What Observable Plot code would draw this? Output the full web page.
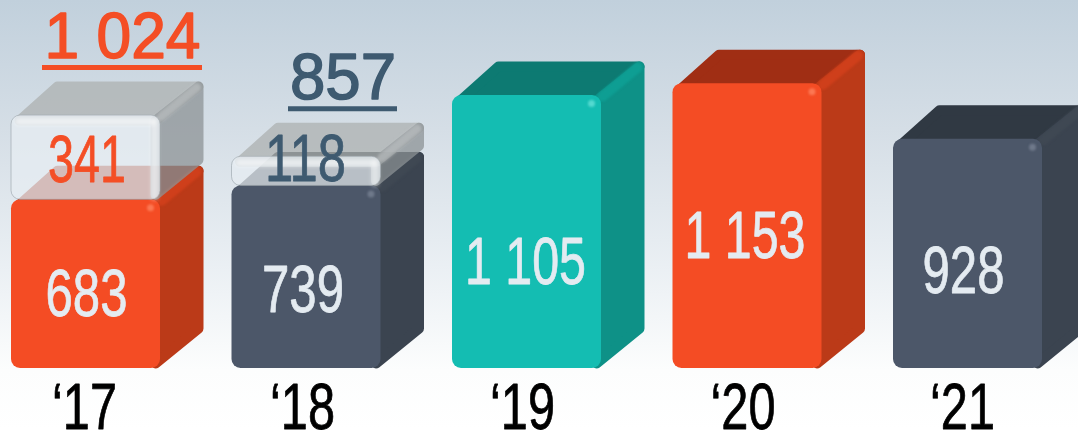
<!DOCTYPE html>
<html>
<head>
<meta charset="utf-8">
<script src="https://cdn.jsdelivr.net/npm/d3@7"></script>
<script src="https://cdn.jsdelivr.net/npm/@observablehq/plot@0.6"></script>
<style>
  html, body { margin: 0; padding: 0; width: 1078px; height: 430px; overflow: hidden;
    background: linear-gradient(180deg, #c1d0dc 0%, #d5dee6 30%, #e6ecf1 56%, #fcfdfd 86%, #ffffff 100%); }
  svg { display: block; }
</style>
</head>
<body>
<div id="chart"></div>
<script>
const years = [2017, 2018, 2019, 2020, 2021];
const yearLabels = ["‘17", "‘18", "‘19", "‘20", "‘21"];
const yearLabelShift = [-1.5, -4, -4.5, -4.5, -5.5];
const solidValues = [683, 739, 1105, 1153, 928];
const solidLabels = ["683", "739", "1 105", "1 153", "928"];
const solidLabelHeights = [300, 316, 429, 534, 393];
const solidLabelShift = [0.5, -3.5, -1.5, -2.5, -4.5];
const solidPalette = ["orange", "slate", "teal", "orange", "slate"];

const ghostYears = [2017, 2018];
const ghostValues = [341, 118];
const ghostLabelHeights = [841, 844];
const ghostLabelShift = [1, -1];
const totals = [1024, 857];
const totalLabels = ["1 024", "857"];
const totalColors = ["#f44e25", "#3e5a70"];
const totalTextWidths = [156, 106];
const totalRuleWidths = [160, 109];

const faces = {
  orange: {front: "#f44c24", side: "#bb3a18", top: "#a02e14", strip: "#cf3f1b", spot: "#ff8a66"},
  slate:  {front: "#4c5769", side: "#3b4450", top: "#303943", strip: "#3f4853", spot: "#7d8898"},
  teal:   {front: "#14bdb2", side: "#0e9187", top: "#0d7a72", strip: "#0e9e93", spot: "#6fe6dd"}
};

// scale layout, in pixels
const W = 1078, H = 430, baseY = 368, pxPerUnit = 0.247, pxPerYear = 220.5, x2017 = 85.5;
const halfW = 74.5 / pxPerYear, depthX = 43 / pxPerYear, depthY = 34 / pxPerUnit;
const px = v => v / pxPerYear, pu = v => v / pxPerUnit;
const round = 5;

function squeezed(widthOf) {
  return (index, scales, values, dims, ctx, next) => {
    const g = next(index, scales, values, dims, ctx);
    d3.select(g).selectAll("text").each(function (_, k) {
      const w = widthOf(index[k]);
      this.setAttribute("textLength", w);
      this.setAttribute("lengthAdjust", "spacingAndGlyphs");
    });
    return g;
  };
}

function sidePoly(id, yr, lo, hi) {
  const r = yr + halfW, i = px(round), j = pu(round);
  return [
    {id, x: r - i, y: lo + j},
    {id, x: r + depthX - i, y: lo + depthY + j * 1.2},
    {id, x: r + depthX - i, y: hi + depthY - j},
    {id, x: r - i, y: hi - j}
  ];
}
function topPoly(id, yr, hi) {
  const l = yr - halfW, r = yr + halfW, i = px(round), j = pu(round);
  return [
    {id, x: l + i * 1.6, y: hi - j},
    {id, x: r - i, y: hi - j},
    {id, x: r + depthX - i, y: hi + depthY - j},
    {id, x: l + depthX + i * 0.6, y: hi + depthY - j}
  ];
}

const solids = years.map((yr, i) => ({yr, v: solidValues[i], c: faces[solidPalette[i]]}));
const solidTop = solids.flatMap((d, i) => topPoly("t" + i, d.yr, d.v).map(p => ({...p, fill: d.c.top})));
const solidSide = solids.flatMap((d, i) => sidePoly("s" + i, d.yr, 0, d.v).map(p => ({...p, fill: d.c.side})));

const ghosts = ghostYears.map((yr, i) => ({yr, lo: solidValues[years.indexOf(yr)], hi: totals[i]}));
const ghostTop = ghosts.flatMap((d, i) => topPoly("gt" + i, d.yr, d.hi));
const ghostSide = ghosts.flatMap((d, i) => sidePoly("gs" + i, d.yr, d.lo, d.hi));

const labelFont = "'Liberation Sans', Arial, sans-serif";

const plot = Plot.plot({
  width: W, height: H, margin: 0,
  style: {background: "transparent"},
  x: {domain: [2017 - x2017 / pxPerYear, 2017 + (W - x2017) / pxPerYear], range: [0, W], axis: null},
  y: {domain: [-(H - baseY) / pxPerUnit, baseY / pxPerUnit], range: [H, 0], axis: null},
  color: {type: "identity"},
  marks: [
    // solid boxes
    Plot.line(solidTop, {x: "x", y: "y", z: "id", fill: "fill", stroke: "fill", strokeWidth: round * 2, strokeLinejoin: "round", curve: "linear-closed"}),
    Plot.line(solidSide, {x: "x", y: "y", z: "id", fill: "fill", stroke: "fill", strokeWidth: round * 2, strokeLinejoin: "round", curve: "linear-closed"}),
    Plot.link(solids, {
      x1: d => d.yr + halfW + px(1), y1: d => d.v - pu(1),
      x2: d => d.yr + halfW + depthX - px(7), y2: d => d.v + depthY - pu(6),
      stroke: d => d.c.strip, strokeWidth: 10, strokeLinecap: "round", imageFilter: "blur(1px)"
    }),
    Plot.rect(solids, {
      x1: d => d.yr - halfW, x2: d => d.yr + halfW, y1: 0, y2: "v",
      fill: d => d.c.front, rx: 9
    }),
    Plot.dot(solids, {
      x: d => d.yr + halfW - px(10), y: d => d.v - pu(8), r: 3.5,
      fill: d => d.c.spot, fillOpacity: 0.7, imageFilter: "blur(1.2px)"
    }),
    // translucent boxes
    Plot.line(ghostTop, {x: "x", y: "y", z: "id", fill: "#adb1b1", stroke: "#adb1b1", strokeWidth: round * 2, strokeLinejoin: "round", curve: "linear-closed", opacity: 0.75}),
    Plot.line(ghostSide, {x: "x", y: "y", z: "id", fill: "#8d9396", stroke: "#8d9396", strokeWidth: round * 2, strokeLinejoin: "round", curve: "linear-closed", opacity: 0.75}),
    Plot.link(ghosts, {
      x1: d => d.yr + halfW + px(1), y1: d => d.hi - pu(1),
      x2: d => d.yr + halfW + depthX - px(7), y2: d => d.hi + depthY - pu(6),
      stroke: "#c4c8ca", strokeOpacity: 0.55, strokeWidth: 9, strokeLinecap: "round", imageFilter: "blur(1.5px)"
    }),
    Plot.rect(ghosts, {
      x1: d => d.yr - halfW, x2: d => d.yr + halfW, y1: "lo", y2: "hi",
      fill: "#e6ecf1", fillOpacity: 0.75, stroke: "#98a2a8", strokeOpacity: 0.6, strokeWidth: 1, rx: 9
    }),
    Plot.link(ghosts, {
      x1: d => d.yr - halfW + px(7), y1: d => d.hi - pu(6),
      x2: d => d.yr + halfW - px(7), y2: d => d.hi - pu(6),
      stroke: "#ffffff", strokeOpacity: 0.55, strokeWidth: 7, strokeLinecap: "round", imageFilter: "blur(2px)"
    }),
    Plot.link(ghosts, {
      x1: d => d.yr + halfW - px(6), y1: d => d.hi - pu(6),
      x2: d => d.yr + halfW - px(6), y2: d => d.lo + pu(3),
      stroke: "#ffffff", strokeOpacity: 0.45, strokeWidth: 7, strokeLinecap: "round", imageFilter: "blur(2px)"
    }),
    // value labels
    Plot.text(solidLabels, {
      x: (d, i) => years[i] + px(solidLabelShift[i]), y: (d, i) => solidLabelHeights[i],
      text: d => d, fill: "#e4ebf1", stroke: "#e4ebf1", strokeWidth: 0.8, fontFamily: labelFont, fontSize: 67, lineAnchor: "middle",
      render: squeezed(i => solidLabels[i].length === 5 ? 121 : 82)
    }),
    Plot.text(ghostValues, {
      x: (d, i) => ghostYears[i] + px(ghostLabelShift[i]), y: (d, i) => ghostLabelHeights[i],
      text: d => String(d), fill: (d, i) => totalColors[i], stroke: (d, i) => totalColors[i], strokeWidth: 0.8,
      fontFamily: labelFont, fontSize: 67, lineAnchor: "middle",
      render: squeezed(i => [78, 81][i])
    }),
    // totals
    Plot.text(totals, {
      x: (d, i) => ghostYears[i] + halfW - px(38), y: d => d + depthY, dy: -24,
      text: (d, i) => totalLabels[i], fill: (d, i) => totalColors[i], stroke: (d, i) => totalColors[i], strokeWidth: 1.5,
      fontFamily: labelFont, fontSize: 64, lineAnchor: "bottom",
      render: squeezed(i => totalTextWidths[i])
    }),
    Plot.ruleY(totals, {
      y: d => d + depthY, dy: -14,
      x1: (d, i) => ghostYears[i] + halfW - px(38) - px(totalRuleWidths[i] / 2),
      x2: (d, i) => ghostYears[i] + halfW - px(38) + px(totalRuleWidths[i] / 2),
      stroke: (d, i) => totalColors[i], strokeWidth: 5
    }),
    // category labels
    Plot.text(yearLabels, {
      x: (d, i) => years[i] + px(yearLabelShift[i]), frameAnchor: "bottom", dy: -2,
      text: d => d, fill: "#000000", stroke: "#000000", strokeWidth: 0.8, fontFamily: labelFont, fontSize: 65, lineAnchor: "bottom",
      render: squeezed(() => 65)
    })
  ]
});
document.getElementById("chart").append(plot);
</script>
</body>
</html>
